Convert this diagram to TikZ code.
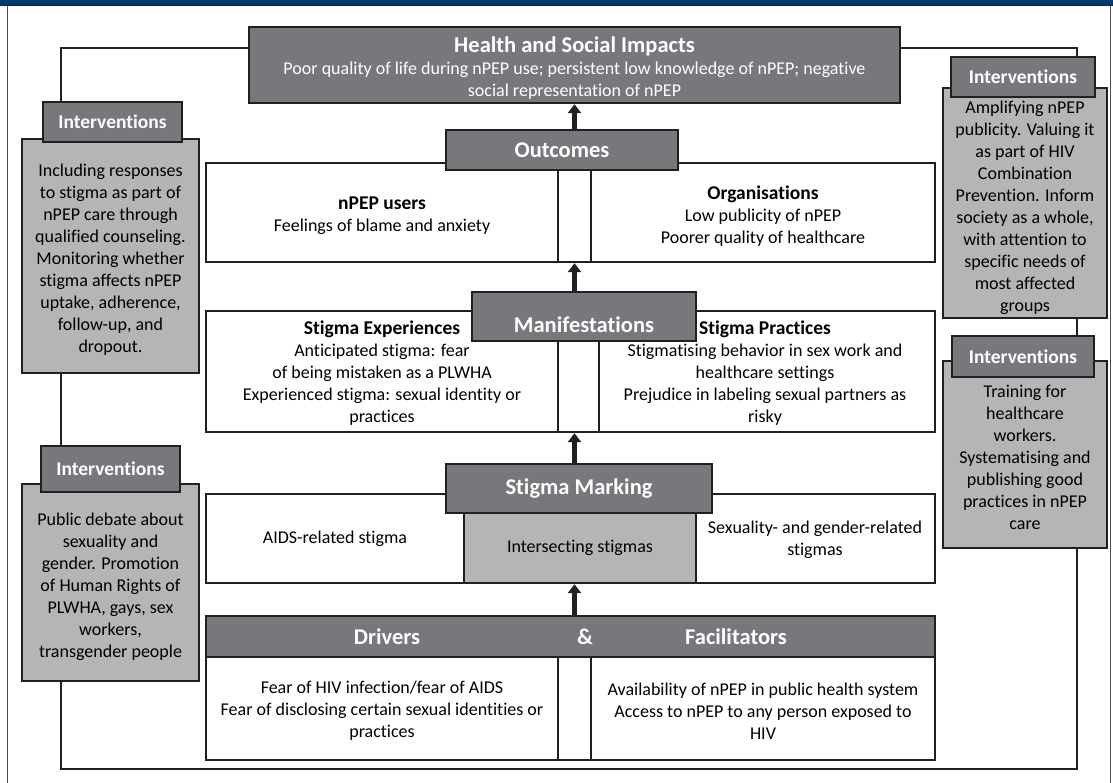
\documentclass[tikz,border=0pt]{standalone}
\usepackage{fontspec}
\setmainfont{Carlito}[Ligatures=NoCommon]
\usetikzlibrary{arrows.meta,backgrounds}

\definecolor{barblue}{RGB}{0,58,112}
\definecolor{headgray}{RGB}{119,120,123}
\definecolor{ivgray}{RGB}{180,181,183}
\definecolor{boxline}{RGB}{35,31,32}

\newcommand{\txtsize}{\fontsize{18}{22}\selectfont}
\newcommand{\subsize}{\fontsize{19.5}{22}\selectfont}
\newcommand{\hdsize}{\fontsize{22.5}{26}\selectfont}
\newcommand{\ivsize}{\fontsize{19.5}{22}\selectfont}

\tikzstyle{plainbox} = [draw=boxline,line width=2.4pt,fill=white,inner sep=0pt]
\tikzstyle{headbox} = [plainbox,fill=headgray,text=white,font=\hdsize\bfseries]
\tikzstyle{ivbox} = [plainbox,fill=ivgray]
\tikzstyle{ivlabel} = [headbox,font=\ivsize\bfseries]
\tikzstyle{txt} = [align=center,font=\txtsize,inner sep=0pt]
\tikzstyle{link} = [draw=boxline,line width=2.6pt]
\tikzstyle{divider} = [draw=boxline,line width=2pt]
\tikzstyle{uparrow} = [draw=boxline,line width=4.5pt,-{Triangle[width=13pt,length=9pt]}]
% box from corner (#1,#2) to corner (#3,#4)
\tikzset{span/.style n args={4}{minimum width={(#3)-(#1)},minimum height={(#4)-(#2)},
    at={({((#1)+(#3))/2},{((#2)+(#4))/2})}}}

\begin{document}
\begin{tikzpicture}[x=1pt,y=-1pt]
      \useasboundingbox (0,0) rectangle (1113,783);
      %frame
      \fill[barblue] (0,0) rectangle (1113,5.5);
      \draw[boxline,line width=1pt] (0,6) -- (1113,6);
      \draw[boxline!80,line width=1.3pt] (7.5,6) -- (7.5,783) (1110.5,6) -- (1110.5,783);

      %corners of the loop
      \coordinate (lt) at (61,48);
      \coordinate (lb) at (61,769);
      \coordinate (rb) at (1077,769);
      \coordinate (rt) at (1077,48);

      %impacts
      \node[headbox,span={249}{27}{900}{103}] (impacts) {};
      \node[txt,text=white] (impactstext) at (574.5,68)
        {{\hdsize\bfseries Health and Social Impacts}\\
         Poor quality of life during nPEP use; persistent low knowledge of nPEP; negative\\
         social representation of nPEP};

      %outcomes
      \node[plainbox,span={206}{163}{935}{262}] (outbox) {};
      \node[txt] (users) at (382,216) {{\subsize\bfseries nPEP users}\\Feelings of blame and anxiety};
      \node[txt] (orgs) at (763,216) {{\subsize\bfseries Organisations}\\Low publicity of nPEP\\Poorer quality of healthcare};

      %manifestations
      \node[plainbox,span={206}{311}{935}{432}] (manbox) {};
      \node[txt] (experiences) at (382,373.5) {{\subsize\bfseries Stigma Experiences}\\Anticipated stigma: fear\\of being mistaken as a PLWHA\\Experienced stigma: sexual identity or\\practices};
      \node[txt] (practices) at (765,373.5) {{\subsize\bfseries Stigma Practices}\\Stigmatising behavior in sex work and\\healthcare settings\\Prejudice in labeling sexual partners as\\risky};

      %stigma marking
      \node[plainbox,span={206}{494}{935}{583}] (markbox) {};
      \node[plainbox,fill=ivgray,font=\txtsize,span={464}{513}{696}{583}] (inter) {Intersecting stigmas};
      \node[txt] (aids) at (335,539) {AIDS-related stigma};
      \node[txt] (sexuality) at (815,540) {Sexuality- and gender-related\\stigmas};

      %drivers and facilitators
      \node[plainbox,span={206}{657}{935}{760}] (drvbox) {};
      \node[headbox,span={206}{616}{935}{657}] (drivers) {};
      \foreach \name/\x/\word in {drv/387/Drivers, amp/585/\&, fac/736/Facilitators}
        \node[txt,text=white,font=\hdsize\bfseries] (\name) at (\x,637) {\word};
      \node[txt] (fears) at (382,711) {Fear of HIV infection/fear of AIDS\\Fear of disclosing certain sexual identities or\\practices};
      \node[txt] (access) at (763,711) {Availability of nPEP in public health system\\Access to nPEP to any person exposed to\\HIV};

      %middle gaps
      \foreach \bx/\xa/\xb in {outbox/353/386, manbox/353/394, drvbox/353/386}
      {
        \draw[divider] ([xshift=\xa pt]\bx.north west) -- ([xshift=\xa pt]\bx.south west);
        \draw[divider] ([xshift=\xb pt]\bx.north west) -- ([xshift=\xb pt]\bx.south west);
      };
      \node[headbox,span={446}{130}{678}{170}] (outcomes) {Outcomes};
      \node[headbox,span={472}{292}{696}{341}] (manif) {};
      \node[txt,text=white,font=\hdsize\bfseries] (maniftext) at (584,325) {Manifestations};
      \node[headbox,span={446}{464}{712}{513}] (marking) {Stigma Marking};

      %interventions
      \node[ivbox,span={22}{139}{199}{373}] (intL1box) {};
      \node[ivbox,span={22}{484}{199}{681}] (intL2box) {};
      \node[ivbox,span={943}{88}{1107}{318}] (intR1box) {};
      \node[ivbox,span={943}{361}{1107}{548}] (intR2box) {};
      \node[txt] (intL1text) at ([yshift=-4pt]intL1box.center) {Including responses\\to stigma as part of\\nPEP care through\\qualified counseling.\\Monitoring whether\\stigma affects nPEP\\uptake, adherence,\\follow-up, and\\dropout.};
      \node[txt] (intL2text) at ([yshift=-4pt]intL2box.center) {Public debate about\\sexuality and\\gender. Promotion\\of Human Rights of\\PLWHA, gays, sex\\workers,\\transgender people};
      \node[txt] (intR1text) at ([yshift=-5pt]intR1box.center) {Amplifying nPEP\\publicity. Valuing it\\as part of HIV\\Combination\\Prevention. Inform\\society as a whole,\\with attention to\\specific needs of\\most affected\\groups};
      \node[txt] (intR2text) at ([yshift=-3pt]intR2box.center) {Training for\\healthcare\\workers.\\Systematising and\\publishing good\\practices in nPEP\\care};
      \foreach \name/\xa/\ya/\xb/\yb in {intL1/43/102/182/142, intL2/41/446/180/492, intR1/951/57/1095/97, intR2/952/336/1094/377}
        \node[ivlabel,span={\xa}{\ya}{\xb}{\yb}] (\name) {Interventions};

      %edges
      \foreach \lower/\upper in {outcomes/impacts, manif/outbox, marking/manbox, drivers/markbox}
        \draw[uparrow] (\lower.north -| impacts.south) -- (\upper.south -| impacts.south);

      \begin{scope}[on background layer]
        \draw[link] (impacts.west |- lt) -- (lt) -- (intL1.north -| lt);
        \draw[link] (intL1box.south -| lt) -- (intL2.north -| lt);
        \draw[link] (intL2box.south -| lt) -- (lb) -- (rb) -- (intR2box.south -| rb);
        \draw[link] (intR1box.south -| rb) -- (intR2.north -| rb);
        \draw[link] (impacts.east |- rt) -- (rt) -- (intR1.north -| rt);
      \end{scope}
\end{tikzpicture}
\end{document}
